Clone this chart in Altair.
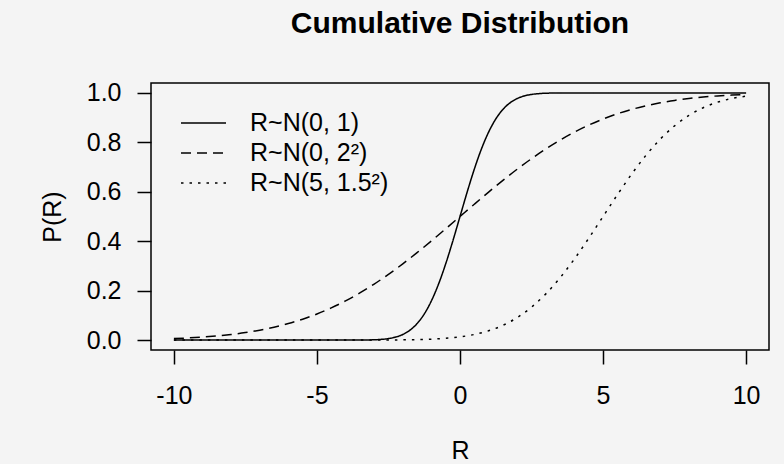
import altair as alt
import pandas as pd

labels = ["R~N(0, 1)", "R~N(0, 2²)", "R~N(5, 1.5²)"]

x1 = [-10, -4, -3.5, -3, -2.75, -2.5, -2.25, -2, -1.75, -1.5, -1.25, -1, -0.75, -0.5, -0.25,
      0, 0.25, 0.5, 0.75, 1, 1.25, 1.5, 1.75, 2, 2.25, 2.5, 2.75, 3, 3.5, 4, 10]
p1 = [0.0, 0.00003, 0.00023, 0.00135, 0.0030, 0.0062, 0.0122, 0.0228, 0.0401, 0.0668, 0.1056,
      0.1587, 0.2266, 0.3085, 0.4013, 0.5, 0.5987, 0.6915, 0.7734, 0.8413, 0.8944, 0.9332,
      0.9599, 0.9772, 0.9878, 0.9938, 0.9970, 0.99865, 0.99977, 0.99997, 1.0]

x2 = [-10, -9.5, -9, -8.5, -8, -7.5, -7, -6.5, -6, -5.5, -5, -4.5, -4, -3.5, -3, -2.5, -2,
      -1.5, -1, -0.5, 0, 0.5, 1, 1.5, 2, 2.5, 3, 3.5, 4, 4.5, 5, 5.5, 6, 6.5, 7, 7.5, 8, 8.5,
      9, 9.5, 10]
p2 = [0.0062, 0.0088, 0.0122, 0.0168, 0.0228, 0.0304, 0.0401, 0.0521, 0.0668, 0.0846, 0.1056,
      0.1303, 0.1587, 0.1908, 0.2266, 0.2660, 0.3085, 0.3538, 0.4013, 0.4503, 0.5, 0.5497,
      0.5987, 0.6462, 0.6915, 0.7340, 0.7734, 0.8092, 0.8413, 0.8697, 0.8944, 0.9154, 0.9332,
      0.9479, 0.9599, 0.9696, 0.9772, 0.9832, 0.9878, 0.9912, 0.9938]

x3 = [-10, -4, -3.5, -3, -2.5, -2, -1.5, -1, -0.5, 0, 0.5, 1, 1.5, 2, 2.5, 3, 3.5, 4, 4.5,
      5, 5.5, 6, 6.5, 7, 7.5, 8, 8.5, 9, 9.5, 10]
p3 = [0.0, 0.00003, 0.00008, 0.00019, 0.00043, 0.00093, 0.00193, 0.00383, 0.00725, 0.0131,
      0.0228, 0.0377, 0.0599, 0.0912, 0.1333, 0.1870, 0.2525, 0.3284, 0.4121, 0.5, 0.5879,
      0.6716, 0.7475, 0.8130, 0.8667, 0.9088, 0.9401, 0.9623, 0.9772, 0.9869]

x_ticks = [-10, -5, 0, 5, 10]
y_ticks = [0.0, 0.2, 0.4, 0.6, 0.8, 1.0]

rows = []
for lab, xs, ps in zip(labels, [x1, x2, x3], [p1, p2, p3]):
    for xv, pv in zip(xs, ps):
        rows.append({"R": xv, "P": pv, "series": lab})
df = pd.DataFrame(rows)

FONT = "Liberation Sans"

chart = alt.Chart(df).mark_line(
    color="black", strokeWidth=1.5, interpolate="monotone"
).encode(
    x=alt.X("R:Q",
            scale=alt.Scale(domain=[-10.8, 10.8], nice=False, zero=False),
            axis=alt.Axis(values=x_ticks, labelExpr="'' + datum.value", title="R",
                          domain=False, grid=False, tickSize=14, tickColor="black",
                          tickWidth=1.5, labelColor="black", labelFontSize=25,
                          labelFont=FONT, labelBaseline="alphabetic", labelPadding=39,
                          labelFlush=False, titleFont=FONT, titleFontSize=25,
                          titleFontWeight="normal", titleColor="black", titleX=309,
                          titleY=108, titleBaseline="alphabetic", titleAlign="center")),
    y=alt.Y("P:Q",
            scale=alt.Scale(domain=[-0.04, 1.04], nice=False, zero=False),
            axis=alt.Axis(values=y_ticks, format=".1f", title="P(R)",
                          domain=False, grid=False, tickSize=14, tickColor="black",
                          tickWidth=1.5, labelColor="black", labelFontSize=25,
                          labelFont=FONT, labelPadding=16, labelFlush=False,
                          titleFont=FONT, titleFontSize=25, titleFontWeight="normal",
                          titleColor="black", titleX=-91, titleY=133.5, titleAngle=270,
                          titleBaseline="alphabetic", titleAlign="center")),
    strokeDash=alt.StrokeDash(
        "series:N",
        scale=alt.Scale(domain=labels, range=[[1, 0], [10, 6], [2.5, 6]]),
        legend=alt.Legend(title=None, orient="none", legendX=29, legendY=25,
                          symbolType="stroke", symbolSize=2025, symbolStrokeWidth=1.5,
                          symbolStrokeColor="black", labelFontSize=25, labelFont=FONT,
                          labelOffset=23, rowPadding=0, clipHeight=30, padding=0,
                          labelColor="black")),
    order=alt.Order("R:Q"),
).properties(
    width=618, height=267,
    title=alt.TitleParams("Cumulative Distribution", font=FONT, fontSize=30,
                          fontWeight="bold", color="black", anchor="middle",
                          offset=18, baseline="alphabetic"),
    autosize=alt.AutoSizeParams(type="none"),
    padding={"left": 151, "top": 83, "right": 15, "bottom": 114},
    background="#f4f4f4",
).configure_view(stroke="black", strokeWidth=1.5)

chart.save("out.html", embed_options={"renderer": "svg", "actions": False})
